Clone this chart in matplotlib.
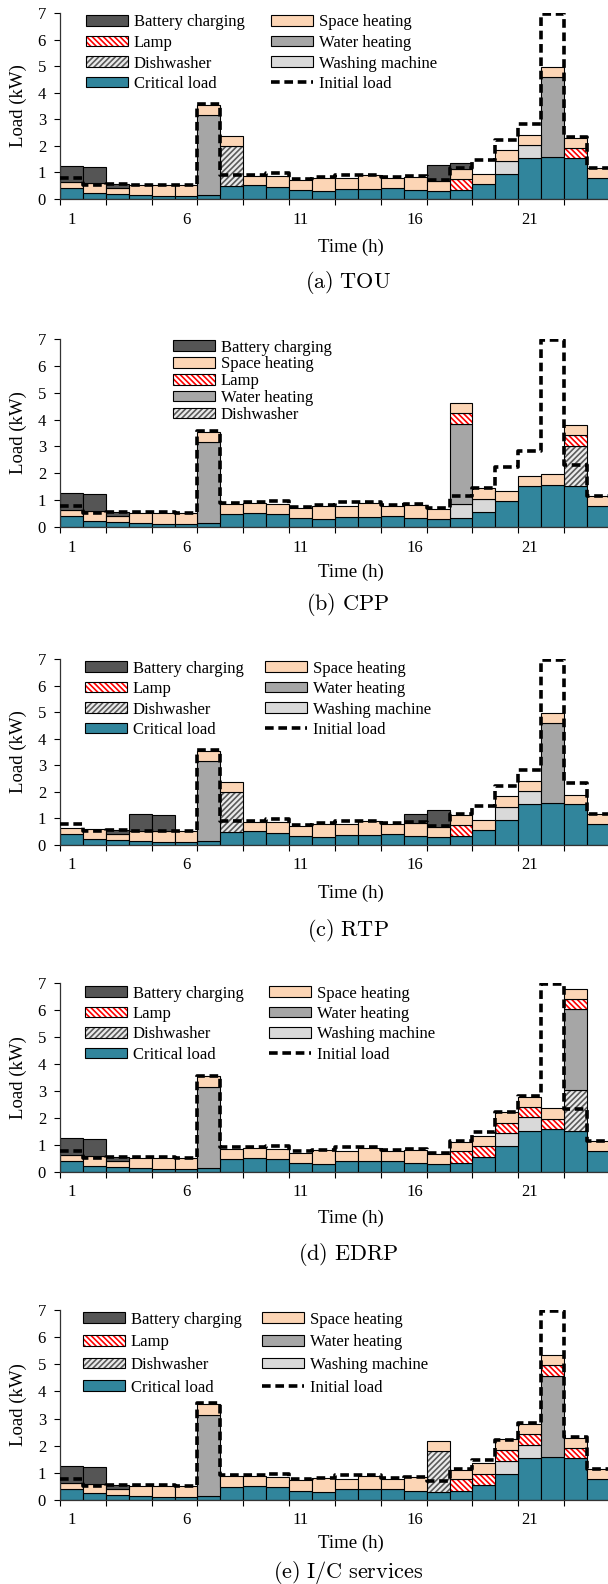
import numpy as np
import matplotlib
matplotlib.use("Agg")
import matplotlib.pyplot as plt
from matplotlib.patches import Patch
from matplotlib.lines import Line2D

plt.rcParams['font.family'] = ['Liberation Serif', 'DejaVu Serif']
plt.rcParams['mathtext.fontset'] = 'cm'
plt.rcParams['hatch.linewidth'] = 1.2

# ---- data (kW per hour) ----
hours = list(range(1, 25))
critical = [0.40, 0.24, 0.18, 0.14, 0.11, 0.11, 0.15, 0.49, 0.52, 0.47, 0.34, 0.29,
            0.39, 0.39, 0.42, 0.33, 0.29, 0.34, 0.56, 0.95, 1.53, 1.58, 1.53, 0.78]
space = [0.23, 0.36, 0.24, 0.38, 0.40, 0.40, 0.40, 0.38, 0.36, 0.38, 0.38, 0.51,
         0.39, 0.51, 0.36, 0.50, 0.39, 0.35, 0.39, 0.40, 0.37, 0.38, 0.37, 0.37]
initial = [0.79, 0.51, 0.56, 0.54, 0.54, 0.53, 3.56, 0.91, 0.92, 0.97, 0.76, 0.82,
           0.92, 0.92, 0.82, 0.85, 0.71, 1.16, 1.47, 2.22, 2.83, 6.98, 2.32, 1.16]

# shiftable loads, {hour: kW}
tou_battery = {1: 0.62, 2: 0.62, 3: 0.13, 17: 0.60, 18: 0.23}
tou_lamp = {18: 0.43, 23: 0.40}
tou_water = {7: 3.00, 22: 3.00}
tou_dish = {8: 1.51}
tou_washing = {20: 0.48, 21: 0.50}

cpp_battery = {1: 0.62, 2: 0.62, 3: 0.13}
cpp_lamp = {18: 0.41, 23: 0.40}
cpp_water = {7: 3.00, 18: 3.00}
cpp_dish = {23: 1.49}
cpp_washing = {18: 0.51, 19: 0.49}

rtp_battery = {3: 0.13, 4: 0.63, 5: 0.63, 16: 0.32, 17: 0.62}
rtp_lamp = {18: 0.43}
rtp_water = {7: 3.00, 22: 3.00}
rtp_dish = {8: 1.51}
rtp_washing = {20: 0.48, 21: 0.50}

edrp_battery = {1: 0.62, 2: 0.62, 3: 0.13}
edrp_lamp = {18: 0.43, 19: 0.40, 20: 0.40, 21: 0.39, 22: 0.40, 23: 0.39}
edrp_water = {7: 3.00, 23: 3.00}
edrp_dish = {23: 1.50}
edrp_washing = {20: 0.48, 21: 0.50}

ic_battery = {1: 0.62, 2: 0.62, 3: 0.13}
ic_lamp = {18: 0.43, 19: 0.40, 20: 0.40, 21: 0.39, 22: 0.40, 23: 0.40}
ic_water = {7: 3.00, 22: 3.00}
ic_dish = {17: 1.51}
ic_washing = {20: 0.48, 21: 0.50}

captions = ['(a)\\ TOU', '(b)\\ CPP', '(c)\\ RTP', '(d)\\ EDRP', '(e)\\ I/C\\ services']

# ---- styles ----
TEAL = '#31859C'
PEACH = '#FCD5B5'
DARK = '#555555'
WATER = '#A6A6A6'
WASH = '#D9D9D9'
styles = {
    'Critical load': dict(face=TEAL),
    'Washing machine': dict(face=WASH),
    'Dishwasher': dict(face='#EBEBEB', hatch='//////', hcolor='#5A5A5A'),
    'Water heating': dict(face=WATER),
    'Lamp': dict(face='white', hatch='\\\\\\\\\\\\', hcolor='#FF0000'),
    'Space heating': dict(face=PEACH),
    'Battery charging': dict(face=DARK),
}
DASH = (0, (2.4, 1.3))

W, H = 608, 1584
fig = plt.figure(figsize=(W / 100, H / 100), dpi=100)

# layout in pixels: (axis top y, axis bottom y, xlabel y, caption y,
#                    legend x, legend first-row y, labelspacing, colspacing, ncol)
panels = [
    (13, 199, 247, 282, 86, 21, 0.27, 1.6, 2),
    (339, 527, 572, 605, 173, 346, 0.05, 1.0, 1),
    (659, 845, 893, 930, 85, 667, 0.27, 1.3, 2),
    (983, 1172, 1218, 1255, 85, 992, 0.27, 1.55, 2),
    (1310, 1500, 1543, 1572, 83, 1318, 0.4, 1.25, 2),
]
shift_data = [
    (tou_battery, tou_lamp, tou_water, tou_dish, tou_washing),
    (cpp_battery, cpp_lamp, cpp_water, cpp_dish, cpp_washing),
    (rtp_battery, rtp_lamp, rtp_water, rtp_dish, rtp_washing),
    (edrp_battery, edrp_lamp, edrp_water, edrp_dish, edrp_washing),
    (ic_battery, ic_lamp, ic_water, ic_dish, ic_washing),
]

x = np.array(hours)


def arr(d):
    return np.array([d.get(h, 0.0) for h in hours])


def handle(name):
    st = styles[name]
    if 'hatch' in st:
        hat = Patch(facecolor=st['face'], edgecolor=st['hcolor'], linewidth=0,
                    hatch=st['hatch'])
        return (hat, Patch(facecolor='none', edgecolor='black', linewidth=0.8))
    return Patch(facecolor=st['face'], edgecolor='black', linewidth=0.8)


AX_L, AX_W = 60, 550
for i, (top, bot, xl_y, cap_y, lg_x, lg_y, lsp, csp, ncol) in enumerate(panels):
    battery, lamp, water, dish, washing = [arr(d) for d in shift_data[i]]
    layers = [('Critical load', np.array(critical)), ('Washing machine', washing),
              ('Dishwasher', dish), ('Water heating', water), ('Lamp', lamp),
              ('Space heating', np.array(space)), ('Battery charging', battery)]

    ax = fig.add_axes([AX_L / W, 1 - bot / H, AX_W / W, (bot - top) / H])
    bottom = np.zeros(24)
    for name, vals in layers:
        st = styles[name]
        m = vals > 0
        if 'hatch' in st:
            ax.bar(x[m], vals[m], width=1, bottom=bottom[m], facecolor=st['face'],
                   edgecolor=st['hcolor'], linewidth=0, hatch=st['hatch'], zorder=2)
            ax.bar(x[m], vals[m], width=1, bottom=bottom[m], facecolor='none',
                   edgecolor='black', linewidth=0.8, zorder=2)
        else:
            ax.bar(x[m], vals[m], width=1, bottom=bottom[m], facecolor=st['face'],
                   edgecolor='black', linewidth=0.8, zorder=2)
        bottom += vals

    edges = np.arange(0.5, 25.5, 1)
    ax.step(edges, initial + [initial[-1]], where='post', color='black', lw=2.6,
            ls=DASH, zorder=5)

    ax.set_xlim(0.5, 24.5)
    ax.set_ylim(0, 7)
    ax.set_yticks(range(0, 8))
    ax.set_xticks([1, 6, 11, 16, 21])
    ax.set_xticks(np.arange(0.5, 25, 2), minor=True)
    ax.tick_params(axis='x', which='major', length=0, pad=9, labelsize=12)
    ax.tick_params(axis='x', which='minor', length=4, width=0.8, direction='out')
    ax.tick_params(axis='y', length=4, width=0.8, pad=6, labelsize=12)
    for s in ('top', 'right'):
        ax.spines[s].set_visible(False)
    for s in ('left', 'bottom'):
        ax.spines[s].set_linewidth(0.9)
        ax.spines[s].set_color('#333333')

    ax.set_ylabel('Load (kW)', fontsize=13.5)
    ax.yaxis.set_label_coords(-42 / AX_W, 0.5)
    ax.yaxis.label.set_va('center')
    ax.set_xlabel('Time (h)', fontsize=13.5)
    ax.xaxis.set_label_coords((351 - AX_L) / AX_W, -(xl_y - bot) / (bot - top))
    ax.xaxis.label.set_va('center')

    fig.text(348 / W, 1 - cap_y / H, r'$\mathrm{' + captions[i] + '}$',
             fontsize=16, ha='center', va='center')

    if ncol == 2:
        names = ['Battery charging', 'Lamp', 'Dishwasher', 'Critical load',
                 'Space heating', 'Water heating', 'Washing machine']
    else:
        names = ['Battery charging', 'Space heating', 'Lamp', 'Water heating',
                 'Dishwasher']
    hs = [handle(n) for n in names]
    if ncol == 2:
        hs.append(Line2D([], [], color='black', lw=2.6, ls=DASH))
        names = names + ['Initial load']
    ax.legend(hs, names, loc='upper left', ncol=ncol, frameon=False,
              bbox_to_anchor=(lg_x / W, 1 - (lg_y - 6.5) / H),
              bbox_transform=fig.transFigure, borderpad=0, borderaxespad=0,
              fontsize=12, handlelength=2.5, handleheight=0.6, handletextpad=0.36,
              labelspacing=lsp, columnspacing=csp)

fig.savefig('out.png', dpi=100)
